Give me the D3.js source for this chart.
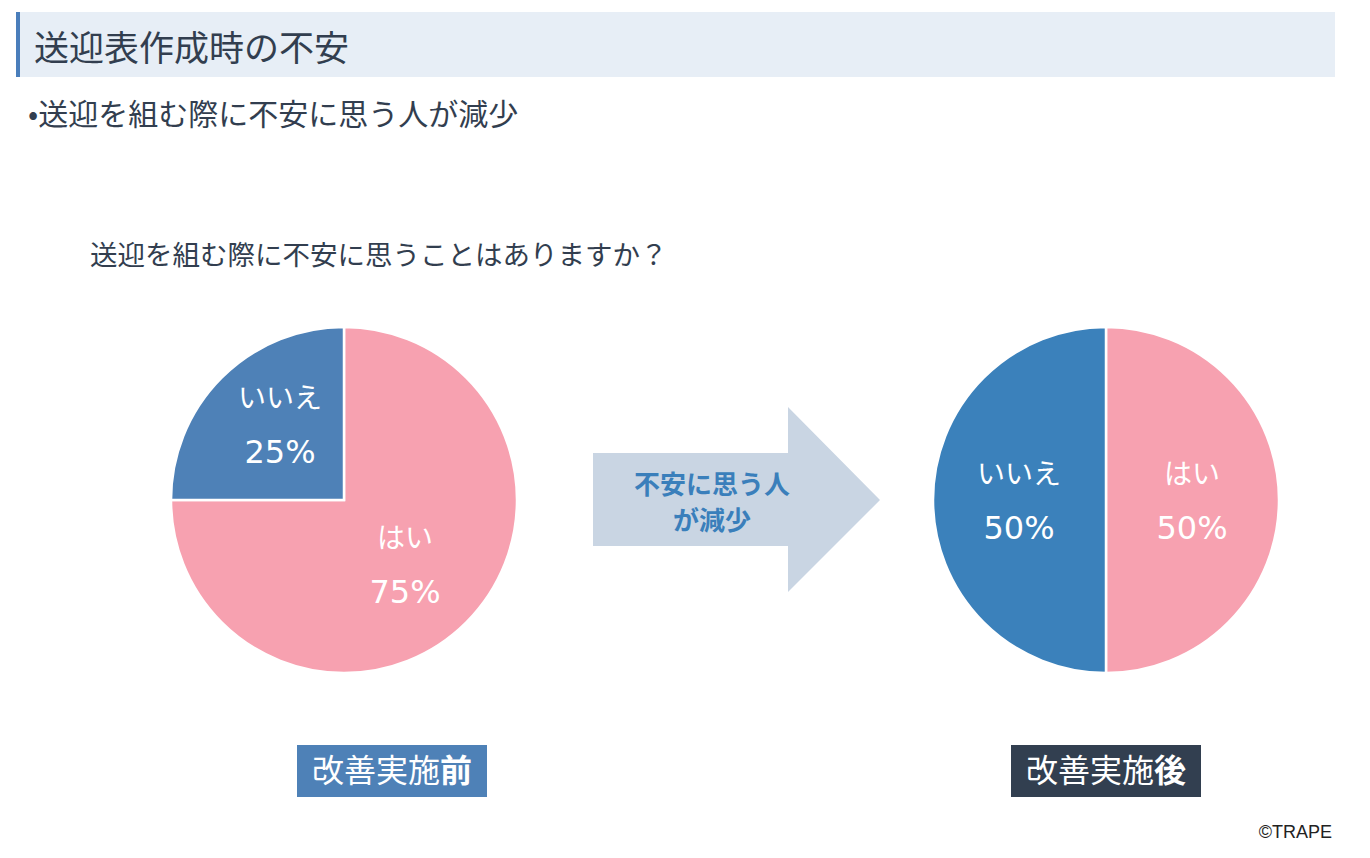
<!DOCTYPE html>
<html><head><meta charset="utf-8">
<script src="https://cdn.jsdelivr.net/npm/d3@7"></script>
<style>
html,body{margin:0;padding:0;background:#fff;}
svg{display:block;font-family:"Noto Sans CJK JP","Noto Sans",sans-serif;}
</style></head>
<body><svg id="c" width="1370" height="858"></svg>
<script>
const title = "送迎表作成時の不安";
const bullet = "•送迎を組む際に不安に思う人が減少";
const question = "送迎を組む際に不安に思うことはありますか？";
const categories = ["はい", "いいえ"];
const beforeValues = [75, 25];
const afterValues = [50, 50];
const panelLabels = [["改善実施","前"], ["改善実施","後"]];
const arrowText = ["不安に思う人", "が減少"];
const credit = "©TRAPE";

const svg = d3.select("#c");
const textColor = "#323e4f";

// header
svg.append("rect").attr("x",16).attr("y",12).attr("width",1319).attr("height",65).attr("fill","#e7eef6");
svg.append("rect").attr("x",16).attr("y",12).attr("width",4).attr("height",65).attr("fill","#4a7ebb");
svg.append("text").attr("x",34).attr("y",61).attr("font-size",35).attr("fill",textColor).text(title);
svg.append("text").attr("x",28).attr("y",125).attr("font-size",30).attr("fill",textColor).text(bullet);
svg.append("text").attr("x",90).attr("y",265).attr("font-size",27.5).attr("fill",textColor).text(question);

const pie = d3.pie().sort(null).value(d=>d);
const r = 173;
const arc = d3.arc().innerRadius(0).outerRadius(r);

function drawPie(cx, cy, values, colors, labelPos){
  const g = svg.append("g").attr("transform",`translate(${cx},${cy})`);
  const arcs = pie(values);
  g.selectAll("path").data(arcs).join("path")
    .attr("d",arc).attr("fill",(d,i)=>colors[i])
    .attr("stroke","#fff").attr("stroke-width",2.5);
  arcs.forEach((a,i)=>{
    const [lx,ly] = labelPos[i];
    g.append("text").attr("x",lx).attr("y",ly).attr("text-anchor","middle")
      .attr("font-size",28).attr("fill","#fff").text(categories[i]);
    g.append("text").attr("x",lx).attr("y",ly+55).attr("text-anchor","middle")
      .attr("font-family","DejaVu Sans, sans-serif")
      .attr("font-size",32).attr("fill","#fff").text(values[i]+"%");
  });
}
drawPie(344,500,beforeValues,["#f7a1b0","#4e81b7"],[[61,48],[-64,-92]]);
drawPie(1106,500,afterValues,["#f7a1b0","#3b81bb"],[[86,-16],[-87,-16]]);

// arrow
const arrowPts = [[593,453],[788,453],[788,407],[880,500],[788,592],[788,546],[593,546]];
svg.append("path").attr("d",d3.line()(arrowPts)+"Z").attr("fill","#c9d5e3");
arrowText.forEach((t,i)=>{
  svg.append("text").attr("x",712).attr("y",494+i*36).attr("text-anchor","middle")
    .attr("font-size",26).attr("font-weight","bold").attr("fill","#3a7fbb").text(t);
});

// panel labels
const boxes = [{x:297,c:"#4e81b7"},{x:1011,c:"#323f50"}];
boxes.forEach((b,i)=>{
  svg.append("rect").attr("x",b.x).attr("y",745).attr("width",190).attr("height",52).attr("fill",b.c);
  const t = svg.append("text").attr("x",b.x+95).attr("y",782).attr("text-anchor","middle")
    .attr("font-size",32).attr("fill","#fff");
  t.append("tspan").text(panelLabels[i][0]);
  t.append("tspan").attr("font-weight","bold").text(panelLabels[i][1]);
});

svg.append("text").attr("x",1332).attr("y",838).attr("text-anchor","end")
  .attr("font-family","Liberation Sans, Arial, sans-serif").attr("font-size",18).attr("fill","#222").text(credit);
</script></body></html>
